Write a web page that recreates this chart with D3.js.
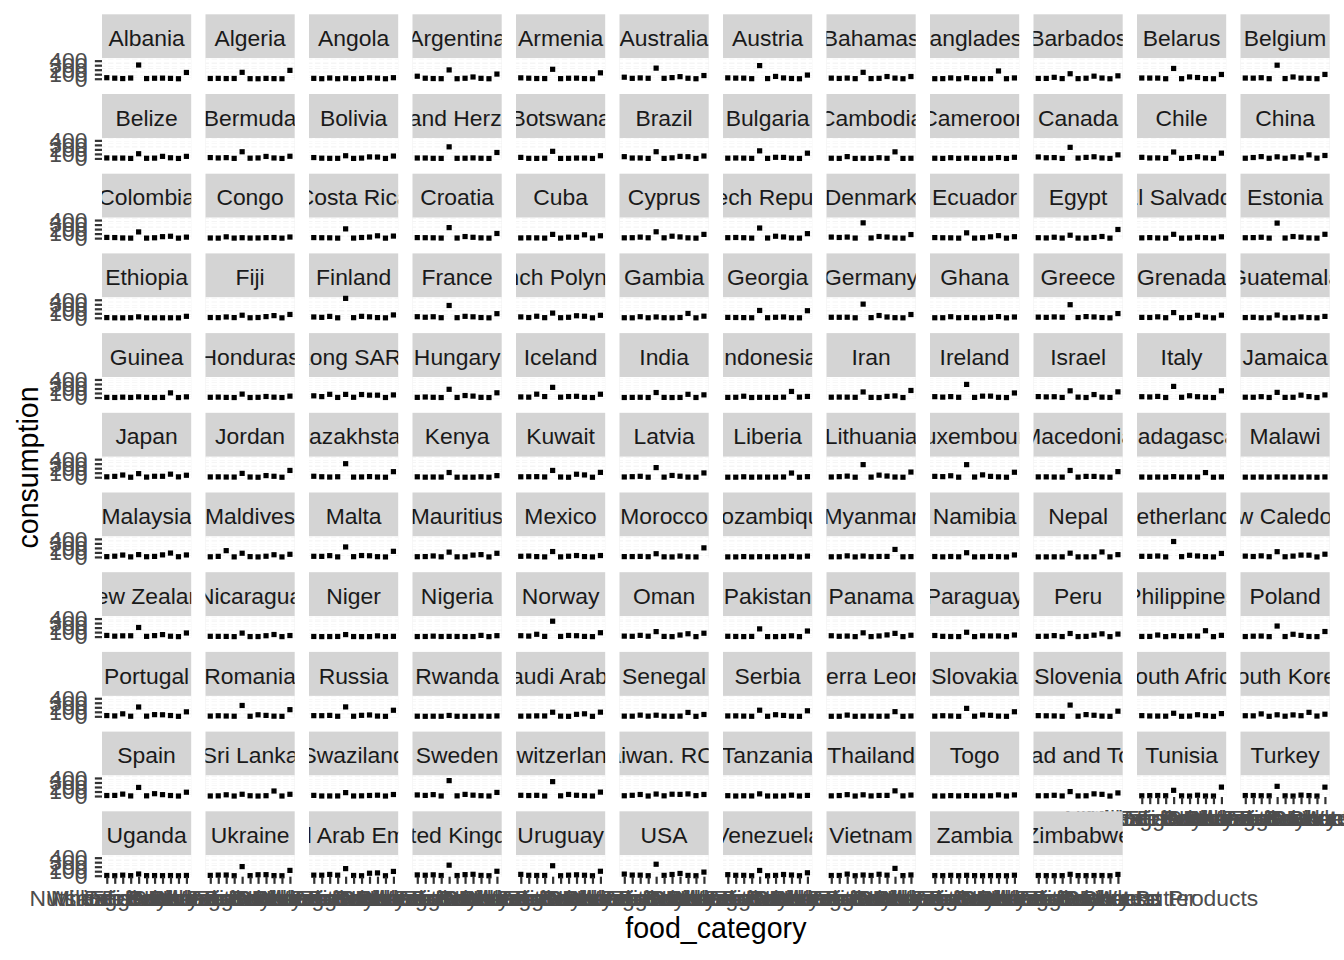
<!DOCTYPE html>
<html><head><meta charset="utf-8">
<script src="https://cdn.jsdelivr.net/npm/d3@7"></script>
<style>
html,body{margin:0;padding:0;background:#fff;}
svg{display:block;font-family:"Liberation Sans",Arial,Helvetica,sans-serif;}
</style>
</head><body><div id="chart"></div>
<script>
// ---------- data ----------
const foodCategories = ["Beef","Eggs","Fish","Lamb & Goat","Milk - inc. cheese","Nuts inc. Peanut Butter","Pork","Poultry","Rice","Soybeans","Wheat and Wheat Products"];

const countries = ["Albania","Algeria","Angola","Argentina","Armenia","Australia","Austria","Bahamas","Bangladesh","Barbados","Belarus","Belgium",
"Belize","Bermuda","Bolivia","Bosnia and Herzegovina","Botswana","Brazil","Bulgaria","Cambodia","Cameroon","Canada","Chile","China",
"Colombia","Congo","Costa Rica","Croatia","Cuba","Cyprus","Czech Republic","Denmark","Ecuador","Egypt","El Salvador","Estonia",
"Ethiopia","Fiji","Finland","France","French Polynesia","Gambia","Georgia","Germany","Ghana","Greece","Grenada","Guatemala",
"Guinea","Honduras","Hong Kong SAR. China","Hungary","Iceland","India","Indonesia","Iran","Ireland","Israel","Italy","Jamaica",
"Japan","Jordan","Kazakhstan","Kenya","Kuwait","Latvia","Liberia","Lithuania","Luxembourg","Macedonia","Madagascar","Malawi",
"Malaysia","Maldives","Malta","Mauritius","Mexico","Morocco","Mozambique","Myanmar","Namibia","Nepal","Netherlands","New Caledonia",
"New Zealand","Nicaragua","Niger","Nigeria","Norway","Oman","Pakistan","Panama","Paraguay","Peru","Philippines","Poland",
"Portugal","Romania","Russia","Rwanda","Saudi Arabia","Senegal","Serbia","Sierra Leone","Slovakia","Slovenia","South Africa","South Korea",
"Spain","Sri Lanka","Swaziland","Sweden","Switzerland","Taiwan. ROC","Tanzania","Thailand","Togo","Trinidad and Tobago","Tunisia","Turkey",
"Uganda","Ukraine","United Arab Emirates","United Kingdom","Uruguay","USA","Venezuela","Vietnam","Zambia","Zimbabwe"];

// consumption per country, in the order of foodCategories
const consumption = [
[22.50,12.45,3.85,15.32,303.72,4.36,10.88,13.23,7.78,0.00,138.64],
[5.33,8.16,4.30,5.93,141.53,1.36,0.00,7.42,2.62,0.00,185.12],
[8.13,0.89,16.03,0.85,12.36,0.86,5.47,19.68,11.24,0.00,22.71],
[55.48,11.39,4.36,1.56,195.08,0.49,10.51,38.66,8.77,0.00,103.11],
[19.66,11.69,4.99,4.17,209.03,2.03,10.25,12.50,4.05,0.00,130.57],
[33.86,8.51,17.69,9.87,234.49,8.73,24.14,46.12,11.03,0.19,70.46],
[18.84,13.27,13.00,1.21,290.86,3.90,50.82,17.33,5.65,0.12,81.18],
[13.36,6.55,14.32,1.93,141.56,3.19,8.57,48.48,13.36,0.00,48.79],
[1.05,2.03,18.13,0.82,21.91,0.32,0.00,1.84,171.73,0.61,17.47],
[6.66,7.01,31.00,3.27,110.31,2.22,10.96,56.80,15.27,0.00,64.06],
[16.18,14.52,13.97,0.08,227.41,1.43,39.84,27.02,2.89,0.00,94.29],
[14.97,12.79,21.80,1.39,299.93,3.98,38.65,13.79,8.94,0.31,95.23],
[10.71,7.32,7.88,0.32,103.88,2.87,6.81,45.62,14.08,0.00,45.59],
[18.95,10.12,17.56,1.56,147.69,5.15,10.33,44.20,10.31,0.00,48.13],
[19.35,5.64,2.20,2.09,59.47,0.73,7.78,34.03,30.48,0.00,52.34],
[9.26,8.96,2.65,0.80,256.47,2.49,4.85,11.58,3.75,0.00,131.62],
[22.81,2.20,1.04,4.39,157.34,0.54,2.20,7.76,7.58,0.00,59.64],
[39.25,8.23,10.01,0.62,148.36,0.61,12.60,45.00,37.77,0.00,53.59],
[5.39,9.61,6.68,1.28,168.07,1.41,24.63,22.69,5.51,0.00,116.30],
[4.59,1.23,39.92,0.00,3.93,1.02,14.60,3.06,145.78,0.63,3.48],
[4.48,0.75,15.18,1.33,9.21,3.47,2.47,4.75,19.12,0.00,24.72],
[32.54,14.53,19.25,1.01,245.59,7.93,22.81,36.70,10.32,0.16,78.96],
[24.18,9.99,11.42,0.75,141.98,2.04,19.24,37.77,11.32,0.00,117.39],
[4.70,19.93,39.87,3.84,35.56,3.94,35.67,13.38,78.59,6.06,64.98],
[15.76,12.53,4.33,0.23,137.32,0.37,7.98,32.60,41.31,0.00,22.10],
[3.39,0.37,28.92,1.00,8.85,1.63,3.47,10.55,13.40,0.00,24.63],
[12.23,8.44,6.60,0.01,204.85,1.08,13.73,23.63,51.35,0.00,45.33],
[11.55,8.99,7.15,1.39,232.74,2.29,35.04,18.22,5.50,0.00,102.99],
[4.32,7.54,5.48,0.51,82.99,0.96,21.08,18.28,73.43,0.74,52.09],
[6.63,9.06,22.56,7.42,140.36,6.59,42.53,26.62,6.18,0.00,82.94],
[9.53,14.29,8.78,0.31,223.64,2.35,41.67,25.27,5.10,0.00,99.37],
[23.02,14.54,23.65,1.49,338.22,3.39,35.93,23.37,3.52,0.00,79.48],
[12.09,7.78,6.51,0.15,117.19,0.79,9.08,28.99,54.51,0.00,31.62],
[9.13,3.98,19.67,1.98,64.21,1.60,0.23,14.83,35.86,0.00,191.21],
[5.81,11.31,3.69,0.00,84.29,0.28,3.59,18.33,9.40,0.00,29.43],
[8.18,11.43,19.47,0.85,332.95,2.21,35.13,21.58,4.99,0.00,84.89],
[5.23,0.47,0.20,2.56,21.87,0.54,0.01,0.57,1.09,0.00,33.42],
[6.97,4.06,19.41,5.43,57.57,1.39,6.98,26.55,49.32,0.00,74.63],
[19.04,10.47,31.62,0.57,430.76,3.64,32.99,21.98,5.36,0.43,64.11],
[24.86,13.12,23.68,2.77,273.44,3.12,33.15,22.52,6.71,0.14,92.15],
[20.45,6.85,35.11,3.75,105.01,2.61,11.69,46.09,34.94,0.00,55.62],
[2.34,0.59,24.71,1.52,18.79,2.80,0.31,7.81,96.84,0.00,36.76],
[9.39,7.30,4.94,1.44,162.89,2.43,11.66,18.25,2.50,0.00,157.52],
[12.33,11.79,13.27,0.82,303.41,4.46,51.08,17.95,3.42,0.04,73.41],
[1.85,2.17,24.58,2.41,7.91,1.44,1.71,11.38,27.63,0.00,18.16],
[15.35,10.04,19.77,12.62,290.51,6.49,27.16,19.02,6.41,0.00,94.41],
[9.86,7.66,21.69,2.49,115.92,2.86,7.30,56.33,14.84,0.00,58.56],
[5.65,11.13,1.59,0.28,60.90,1.32,2.57,19.44,5.95,0.00,31.50],
[3.29,1.22,7.92,1.89,14.87,3.70,0.38,2.59,103.04,0.00,14.92],
[5.04,9.53,2.88,0.00,75.88,0.61,4.64,22.84,7.81,0.00,30.76],
[37.64,20.49,71.10,2.30,69.13,5.17,66.41,52.97,52.36,0.92,57.55],
[3.52,11.58,5.13,0.09,181.71,1.81,44.14,31.52,4.17,0.00,104.62],
[13.36,8.24,74.41,21.12,225.19,7.46,21.69,26.87,3.89,0.11,72.92],
[0.78,3.08,5.38,0.74,110.67,2.75,0.20,2.13,70.95,1.07,59.18],
[2.71,4.96,28.89,0.62,4.49,3.92,2.05,7.56,134.62,8.73,23.95],
[7.04,10.12,8.38,4.59,123.49,3.34,0.00,25.51,36.06,0.00,155.97],
[19.21,8.86,20.62,5.12,290.43,2.63,30.35,30.60,5.02,0.00,101.06],
[20.68,13.53,17.78,1.98,148.46,8.94,1.06,65.63,8.53,1.79,126.04],
[18.22,11.85,24.26,1.01,246.35,5.40,38.91,17.72,5.31,0.01,149.28],
[6.74,5.35,18.68,1.63,114.09,2.97,5.03,52.84,20.31,0.00,57.19],
[9.07,19.15,48.91,0.16,79.51,3.31,20.96,20.53,67.86,8.00,43.87],
[6.17,8.34,4.38,3.61,85.14,5.15,0.00,36.45,20.95,0.00,150.23],
[21.38,10.57,3.85,9.95,299.68,2.69,5.82,14.10,4.42,0.02,123.08],
[9.16,1.53,4.58,3.58,104.29,0.76,0.37,0.64,9.65,0.00,35.59],
[9.21,10.51,12.84,5.78,150.25,5.19,0.00,66.18,50.87,0.00,107.60],
[5.68,12.07,20.53,0.64,213.46,1.95,39.21,22.38,2.94,0.00,94.95],
[0.88,1.04,9.49,0.99,3.92,2.59,3.02,5.03,92.71,0.00,12.23],
[4.50,12.27,24.57,0.26,279.09,2.27,46.19,26.41,4.18,0.00,114.47],
[19.15,12.83,32.16,1.23,278.46,4.19,52.17,18.87,7.76,0.00,110.41],
[7.16,8.06,4.29,2.65,149.38,2.68,18.25,17.96,5.58,0.00,123.87],
[4.67,0.86,4.54,0.78,12.86,3.30,5.52,2.76,103.07,0.00,6.83],
[1.70,1.66,5.29,1.33,6.97,3.19,3.38,2.10,4.34,0.00,5.91],
[6.39,16.04,41.73,1.44,51.12,4.64,11.57,45.46,85.78,4.48,43.95],
[2.91,12.27,139.07,0.93,81.49,6.62,0.00,15.16,48.37,0.00,58.22],
[13.84,12.04,28.28,1.40,221.01,5.76,30.87,25.41,5.44,0.00,124.27],
[4.64,7.93,21.43,3.02,106.14,2.12,2.91,40.23,50.87,0.00,80.49],
[14.05,18.96,7.39,0.93,119.23,1.58,15.05,30.73,7.42,0.17,30.91],
[6.90,7.68,11.79,4.49,71.02,2.49,0.01,18.45,2.22,0.00,200.81],
[0.90,0.43,7.66,0.93,5.35,2.93,1.40,2.16,14.48,0.00,17.17],
[2.78,4.14,23.40,0.37,18.85,5.16,10.11,10.97,166.06,2.46,6.88],
[9.03,1.54,9.38,2.58,93.11,1.24,3.65,11.13,4.91,0.00,43.62],
[0.53,1.06,2.11,1.98,82.59,1.33,1.54,2.71,109.65,1.37,50.47],
[13.38,12.49,20.13,1.27,341.47,6.29,36.11,20.45,5.84,0.06,77.12],
[17.73,9.43,23.47,4.68,115.89,3.76,17.85,40.91,39.01,0.00,60.29],
[26.12,10.40,17.51,18.91,202.60,5.77,22.29,45.00,8.83,0.12,80.71],
[7.23,5.96,4.61,0.00,78.23,1.29,1.69,20.16,47.00,0.00,24.18],
[3.48,0.41,1.95,3.68,45.60,2.08,0.08,0.48,16.41,0.00,6.10],
[1.79,3.35,10.49,2.22,4.73,3.39,1.52,1.50,27.39,0.00,21.12],
[20.31,11.78,51.81,5.49,341.47,4.12,25.74,20.03,4.76,0.03,86.52],
[11.15,6.81,28.23,8.78,110.76,4.71,0.01,35.33,63.65,0.00,75.31],
[7.71,3.78,1.09,4.53,171.49,0.86,0.00,4.31,17.91,0.00,124.12],
[19.21,7.47,12.82,0.00,83.79,0.74,14.45,38.11,72.22,0.00,30.56],
[24.73,6.26,2.60,0.68,96.67,0.36,17.91,14.43,14.48,0.01,35.94],
[5.75,8.16,22.21,1.39,69.01,0.93,5.36,32.42,61.75,0.00,56.11],
[3.87,4.33,35.37,0.29,19.62,2.42,15.06,11.77,130.44,0.00,28.42],
[2.03,9.36,12.50,0.04,234.44,2.06,52.01,28.05,2.45,0.00,113.09],
[17.00,8.82,55.40,2.38,206.30,4.16,37.60,34.49,17.59,0.00,99.57],
[5.25,12.45,6.60,2.27,240.52,1.53,33.83,20.65,3.83,0.00,147.38],
[15.06,13.96,20.58,1.61,208.52,1.87,22.02,29.93,5.73,0.04,134.55],
[2.97,0.56,2.79,1.07,19.35,1.37,1.36,0.72,4.84,1.08,8.59],
[4.09,5.03,9.84,7.77,90.74,4.35,0.00,44.13,55.92,0.00,92.24],
[4.38,2.81,26.30,3.77,24.79,4.41,0.59,5.32,86.02,0.00,41.09],
[8.45,9.59,4.84,1.07,135.62,1.37,35.85,19.97,3.64,0.00,122.70],
[0.98,1.34,27.42,0.83,3.77,4.55,1.54,4.03,103.49,0.00,7.51],
[3.68,12.92,7.55,0.29,175.99,2.63,30.92,22.29,4.99,0.00,101.19],
[15.29,11.52,9.10,0.55,248.89,3.14,38.22,23.53,5.03,0.00,113.96],
[15.29,7.46,5.83,3.29,67.59,1.28,4.60,35.76,13.11,0.08,60.43],
[12.96,10.19,53.84,0.20,33.73,2.87,31.55,13.84,88.01,6.17,47.13],
[10.97,13.74,42.52,2.55,190.29,5.01,51.85,30.65,10.92,0.00,84.69],
[1.25,3.96,27.53,0.09,39.02,5.99,0.18,7.19,111.20,0.47,38.53],
[14.48,1.16,1.51,2.08,75.50,1.35,4.26,11.77,18.56,0.00,33.51],
[24.27,13.49,30.95,1.12,341.47,4.11,36.40,19.05,7.33,0.32,79.87],
[16.14,10.79,15.26,1.16,318.74,4.51,34.80,16.52,6.64,0.03,86.71],
[6.04,15.91,33.94,0.86,43.83,4.65,40.09,36.17,46.67,8.81,34.68],
[7.65,0.58,5.07,1.77,47.70,1.19,0.52,1.33,18.87,0.00,13.69],
[3.73,10.60,30.36,0.02,27.05,2.02,12.21,13.67,114.54,3.27,20.83],
[1.09,1.37,9.08,2.00,10.48,3.81,2.94,5.09,24.11,0.00,24.26],
[5.93,6.52,16.39,2.07,98.54,2.64,5.46,48.37,37.46,0.00,68.55],
[5.49,8.38,11.25,6.68,126.37,4.49,0.05,17.98,1.60,0.00,197.50],
[10.51,11.05,6.41,4.98,214.71,4.77,0.00,19.92,9.95,0.00,196.37],
[5.33,0.77,12.66,1.78,38.31,2.10,3.37,1.73,4.08,0.00,5.68],
[7.17,14.18,15.49,0.47,202.30,2.14,21.38,23.54,2.50,0.00,117.76],
[12.78,11.53,28.51,12.19,157.50,5.70,0.00,55.17,62.06,0.00,95.49],
[18.31,10.41,20.03,5.08,233.81,4.10,24.14,31.45,7.11,0.06,98.73],
[30.01,9.47,5.63,6.00,221.04,0.27,12.21,20.41,10.03,0.00,99.05],
[36.24,14.58,12.35,0.43,254.69,7.86,27.64,50.01,6.88,0.04,80.43],
[23.54,8.96,8.34,0.36,115.95,0.36,7.07,27.29,15.41,0.00,65.03],
[5.15,5.38,35.76,0.31,15.76,6.37,31.79,12.44,162.63,2.52,16.94],
[3.48,1.57,8.23,0.66,8.62,2.42,1.17,2.50,1.65,0.00,10.45],
[4.98,1.87,2.05,1.95,31.17,2.68,1.86,4.71,4.82,0.00,28.92]
];

const yTicks = [0, 100, 200, 300, 400];
const yMinorTicks = [50, 150, 250, 350, 450];

// ---------- layout ----------
const W = 1344, H = 960;
const PT = 2.6;                 // px per point
const plotLeft = 102;
const plotRight = W - 5.5 * PT;
const topY = 5.5 * PT;
const spacing = 5.5 * PT;
const ncol = 12;
const panelW = (plotRight - plotLeft - (ncol - 1) * spacing) / ncol;
const stripH = 44;
const panelH = 21.4;
const rowStep = stripH + panelH + spacing;
const axisFont = 8.8 * PT;
const titleFont = 11 * PT;
const tickLen = 2.75 * PT;
const fontFam = '"Liberation Sans",Arial,Helvetica,sans-serif';

const svg = d3.select("#chart").append("svg")
  .attr("width", W).attr("height", H);
svg.append("rect").attr("width", W).attr("height", H).attr("fill", "#fff");

const defs = svg.append("defs");
defs.append("clipPath").attr("id", "stripClip")
  .append("rect").attr("x", 0).attr("y", 0).attr("width", panelW).attr("height", stripH);
defs.append("clipPath").attr("id", "panelClip")
  .append("rect").attr("x", 0).attr("y", 0).attr("width", panelW).attr("height", panelH);

const x = d3.scalePoint().domain(foodCategories).range([0, panelW]).padding(0.6);
const allVals = consumption.flat();
const yMin = d3.min(allVals), yMax = d3.max(allVals);
const pad = (yMax - yMin) * 0.05;
const y = d3.scaleLinear().domain([yMin - pad, yMax + pad]).range([panelH, 0]);

const n = countries.length;
const cellX = c => plotLeft + c * (panelW + spacing);
const cellY = r => topY + r * rowStep;

countries.forEach((country, i) => {
  const r = Math.floor(i / ncol), c = i % ncol;
  const g = svg.append("g").attr("transform", `translate(${cellX(c)},${cellY(r)})`);

  // strip
  const strip = g.append("g");
  strip.append("rect").attr("width", panelW).attr("height", stripH).attr("fill", "#D4D4D4");
  strip.append("text")
    .attr("clip-path", "url(#stripClip)")
    .attr("x", panelW / 2).attr("y", stripH / 2 + 0.42 * axisFont)
    .attr("text-anchor", "middle")
    .attr("font-size", axisFont).attr("fill", "#1A1A1A")
    .text(country);

  // panel
  const p = g.append("g").attr("transform", `translate(0,${stripH})`);
  p.append("rect").attr("width", panelW).attr("height", panelH).attr("fill", "#EBEBEB");
  const grid = p.append("g").attr("clip-path", "url(#panelClip)");
  grid.selectAll("line.minor").data(yMinorTicks.filter(v => v <= y.domain()[1])).join("line")
    .attr("x1", 0).attr("x2", panelW).attr("y1", d => y(d)).attr("y2", d => y(d))
    .attr("stroke", "#fff").attr("stroke-width", 1.35);
  grid.selectAll("line.major").data(yTicks).join("line")
    .attr("x1", 0).attr("x2", panelW).attr("y1", d => y(d)).attr("y2", d => y(d))
    .attr("stroke", "#fff").attr("stroke-width", 2.6);
  grid.selectAll("line.vmaj").data(foodCategories).join("line")
    .attr("x1", d => x(d)).attr("x2", d => x(d)).attr("y1", 0).attr("y2", panelH)
    .attr("stroke", "#fff").attr("stroke-width", 2.6);

  const pts = foodCategories.map((f, k) => ({ f, v: consumption[i][k] }));
  const s = 5.2;
  p.selectAll("rect.pt").data(pts).join("rect")
    .attr("x", d => x(d.f) - s / 2).attr("y", d => y(d.v) - s / 2)
    .attr("width", s).attr("height", s).attr("fill", "#000");

  // y axis on first column
  if (c === 0) {
    const ya = p.append("g").call(
      d3.axisLeft(y).tickValues(yTicks).tickSize(tickLen).tickPadding(7.4)
    );
    ya.select(".domain").remove();
    ya.selectAll("line").attr("stroke", "#333333").attr("stroke-width", 2.2);
    ya.selectAll("text").attr("font-size", axisFont).attr("fill", "#4D4D4D")
      .attr("font-family", fontFam);
  }
  // x axis under the lowest panel of each column
  const lastRow = Math.floor((n - 1 - c) / ncol);
  if (r === lastRow) {
    const xa = p.append("g").attr("transform", `translate(0,${panelH})`).call(
      d3.axisBottom(x).tickSize(tickLen).tickPadding(5.7)
    );
    xa.select(".domain").remove();
    xa.selectAll("line").attr("stroke", "#333333").attr("stroke-width", 2.2);
    xa.selectAll("text").attr("font-size", axisFont).attr("fill", "#4D4D4D")
      .attr("font-family", fontFam);
  }
});

// axis titles
const panelsTop = topY + stripH;
const panelsBottom = cellY(Math.floor((n - 1) / ncol)) + stripH + panelH;
svg.append("text")
  .attr("transform", `translate(38,${(panelsTop + panelsBottom) / 2}) rotate(-90)`)
  .attr("text-anchor", "middle").attr("font-size", titleFont).attr("fill", "#000")
  .text("consumption");
svg.append("text")
  .attr("x", (plotLeft + plotRight) / 2).attr("y", 938)
  .attr("text-anchor", "middle").attr("font-size", titleFont).attr("fill", "#000")
  .text("food_category");
</script>
</body></html>
